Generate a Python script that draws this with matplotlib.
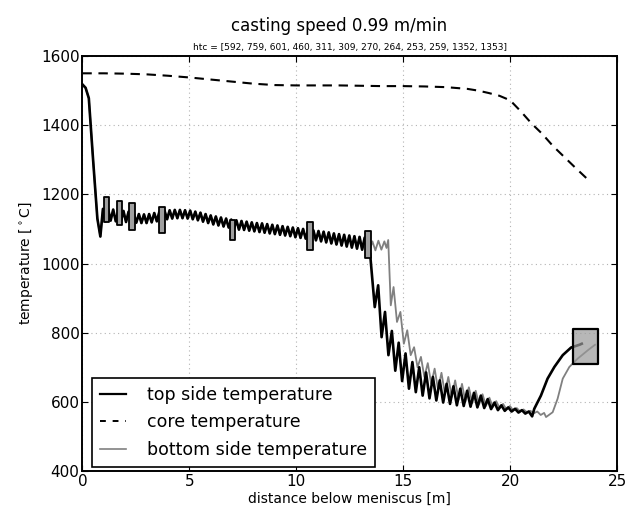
import numpy as np
import matplotlib
matplotlib.use("Agg")
import matplotlib.pyplot as plt
from matplotlib.lines import Line2D

plt.rcParams.update({
    "font.family": "DejaVu Sans",
    "axes.linewidth": 1.4,
})

# ----------------------------------------------------------------------
# data
# ----------------------------------------------------------------------
# top side: initial drop in the mould
top_head_x = [0.0, 0.15, 0.3, 0.5, 0.7, 0.84]
top_head_T = [1518, 1508, 1478, 1300, 1130, 1078]

# top side: oscillation between rolls, starts at 0.96 m, 0.12 m apart
zig1_x0, zig1_dx = 0.96, 0.12
top_zig1_T = [
    1158, 1122, 1158, 1124, 1156, 1122, 1153, 1121, 1152, 1120,
    1150, 1118, 1145, 1118, 1143, 1117, 1142, 1117, 1143, 1119,
    1146, 1122, 1150, 1126, 1153, 1128, 1154, 1130, 1155, 1131,
    1155, 1131, 1154, 1130, 1153, 1128, 1150, 1125, 1147, 1121,
    1143, 1117, 1139, 1113, 1136, 1110, 1133, 1107, 1130, 1104,
    1127, 1100, 1125, 1098, 1123, 1097, 1121, 1095, 1119, 1093,
    1117, 1091, 1116, 1089, 1114, 1087, 1112, 1085, 1110, 1083,
    1108, 1081, 1106, 1079, 1104, 1076, 1102, 1074, 1100, 1072,
    1098, 1070, 1096, 1067, 1094, 1064, 1092, 1061, 1090, 1058,
    1087, 1055, 1085, 1052, 1083, 1049, 1081, 1046, 1079, 1043,
    1077, 1040, 1075, 1038,
]

top_drop_x = [13.45, 13.67]
top_drop_T = [1030, 874]

zig2_x0, zig2_dx = 13.83, 0.16
top_zig2_T = [
    937, 787, 860, 735, 805, 690, 771, 660, 740, 638,
    715, 628, 700, 618, 685, 610, 672, 604, 662, 598,
    652, 594, 645, 590, 638, 588, 632, 586, 626, 584,
    618, 582, 608, 579, 598, 576, 590, 574, 584, 572,
    580, 569, 576, 566, 572, 558,
]

top_rise_x = [21.13, 21.44, 21.75, 22.07, 22.46, 22.85, 23.24, 23.35]
top_rise_T = [580, 618, 667, 701, 735, 757, 765, 768]

# bottom side: same as top up to 13.3 m, then lags behind
bot_mid_x = [13.44, 13.56, 13.70, 13.84, 13.98, 14.12, 14.22, 14.30, 14.42]
bot_mid_T = [1040, 1064, 1038, 1066, 1040, 1064, 1045, 1068, 879]

bot_zig_x0, bot_zig_dx = 14.55, 0.16
bot_zig_T = [
    932, 831, 860, 768, 807, 735, 758, 700, 730, 672,
    712, 652, 696, 636, 684, 624, 672, 614, 662, 606,
    652, 600, 642, 596, 632, 592, 622, 588, 612, 585,
    602, 582, 594, 578, 588, 575, 582, 572, 578, 570,
    574, 567, 572, 562, 568,
]

bot_rise_x = [21.68, 21.99, 22.22, 22.46, 22.77, 23.16, 23.63, 23.97]
bot_rise_T = [556, 570, 609, 667, 701, 725, 749, 765]

# core
core_x = [0, 1, 2, 3, 4, 5, 6, 7, 8, 9, 10, 11, 12, 13, 14, 15, 16, 17,
          18, 18.5, 19, 19.5, 20, 20.5, 21, 21.5, 22, 22.5, 23, 23.6]
core_T = [1550, 1550, 1549, 1547, 1543, 1538, 1532, 1526, 1520, 1516,
          1515, 1515, 1515, 1514, 1513, 1513, 1512, 1510, 1505, 1500,
          1493, 1485, 1472, 1440, 1405, 1375, 1340, 1310, 1280, 1245]

# boxes on the curves (segment boundaries): centre x, width, low T, high T
box_x = [1.11, 1.74, 2.32, 3.72, 7.03, 10.65, 13.35]
box_w = [0.24, 0.26, 0.24, 0.24, 0.24, 0.26, 0.26]
box_lo = [1119, 1110, 1096, 1087, 1067, 1040, 1017]
box_hi = [1191, 1182, 1174, 1162, 1127, 1119, 1093]

# target box at the end of the machine
end_x, end_w, end_lo, end_hi = 23.53, 1.15, 710, 812

htc = [592, 759, 601, 460, 311, 309, 270, 264, 253, 259, 1352, 1353]

# ----------------------------------------------------------------------
zig1_x = zig1_x0 + zig1_dx * np.arange(len(top_zig1_T))
zig2_x = zig2_x0 + zig2_dx * np.arange(len(top_zig2_T))
bzig_x = bot_zig_x0 + bot_zig_dx * np.arange(len(bot_zig_T))

top_x = np.concatenate([top_head_x, zig1_x, top_drop_x, zig2_x, top_rise_x])
top_T = np.concatenate([top_head_T, top_zig1_T, top_drop_T, top_zig2_T, top_rise_T])
bot_x = np.concatenate([top_head_x, zig1_x, bot_mid_x, bzig_x, bot_rise_x])
bot_T = np.concatenate([top_head_T, top_zig1_T, bot_mid_T, bot_zig_T, bot_rise_T])

fig = plt.figure(figsize=(6.29, 5.07), dpi=100)
ax = fig.add_axes([0.131, 0.071, 0.85, 0.8185])

ax.plot(bot_x, bot_T, color="0.5", lw=1.3, zorder=2)
ax.plot(core_x, core_T, color="black", lw=1.5, dashes=(4.5, 3.2), zorder=2)
ax.plot(top_x, top_T, color="black", lw=1.9, zorder=2.5)

ax.bar(box_x, np.subtract(box_hi, box_lo), width=box_w, bottom=box_lo,
       facecolor="#a0a0a0", edgecolor="black", linewidth=1.3,
       joinstyle="round", zorder=3)
ax.bar([end_x], [end_hi - end_lo], width=end_w, bottom=end_lo,
       facecolor=(0.6, 0.6, 0.6, 0.7), edgecolor="black", linewidth=1.6,
       joinstyle="round", zorder=3)

ax.set_xlim(0, 25)
ax.set_ylim(400, 1600)
ax.set_xticks([0, 5, 10, 15, 20, 25])
ax.set_yticks([400, 600, 800, 1000, 1200, 1400, 1600])
ax.tick_params(direction="in", top=True, right=True, length=4, width=0.8,
               labelsize=11, pad=2)
ax.grid(True, color="0.7", linestyle=(0, (1, 3)), linewidth=0.8)
ax.set_axisbelow(True)

ax.set_xlabel("distance below meniscus [m]", fontsize=10, labelpad=2)
ax.set_ylabel(r"temperature [$^\circ$C]", fontsize=10, labelpad=4)
ax.set_title("htc = [" + ", ".join(str(v) for v in htc) + "]",
             fontsize=6.5, pad=4)
fig.text(0.539, 0.949, "casting speed 0.99 m/min", ha="center", va="center",
         fontsize=12)

handles = [
    Line2D([], [], color="black", lw=1.6),
    Line2D([], [], color="black", lw=1.4, dashes=(3, 3.5)),
    Line2D([], [], color="0.5", lw=1.2),
]
labels = ["top side temperature", "core temperature", "bottom side temperature"]
leg = ax.legend(handles, labels, loc="lower left", bbox_to_anchor=(0.018, 0.01),
                borderaxespad=0, fontsize=12.5, handlelength=1.5,
                handletextpad=1.2, labelspacing=0.55, fancybox=False,
                framealpha=1, borderpad=0.45)
leg.get_frame().set_edgecolor("black")
leg.get_frame().set_linewidth(1.2)

fig.savefig("out.png", dpi=100)
